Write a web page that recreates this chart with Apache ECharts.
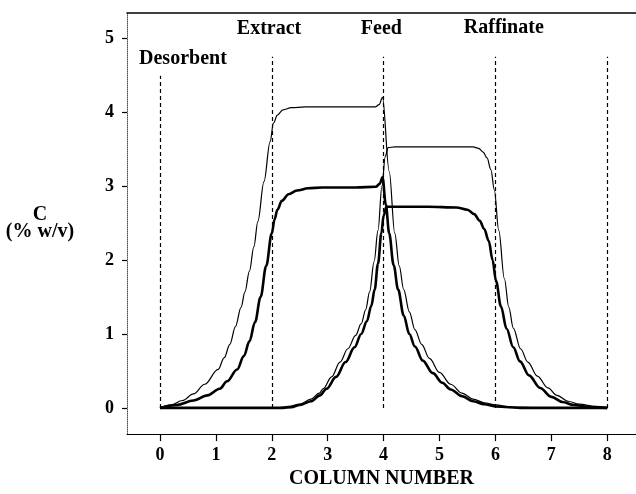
<!DOCTYPE html>
<html>
<head>
<meta charset="utf-8">
<script src="https://cdn.jsdelivr.net/npm/echarts@6/dist/echarts.min.js"></script>
<style>
html,body{margin:0;padding:0;background:#fff;}
#chart{width:636px;height:494px;}
</style>
</head>
<body>
<div id="chart"></div>
<script>
// ---- data ----
const xTicks = [0, 1, 2, 3, 4, 5, 6, 7, 8];
const yTicks = [0, 1, 2, 3, 4, 5];

// column boundaries (dashed lines) and their top ends
const sectionX = [0, 2, 4, 6, 8];
const sectionTop = [4.49, 4.75, 4.75, 4.75, 4.75];

// port annotations
const portNames = ['Desorbent', 'Extract', 'Feed', 'Raffinate'];
const portX = [0.41, 1.95, 3.96, 6.15];
const portY = [4.72, 5.13, 5.13, 5.14];

// extract component (strongly adsorbed), thin curve
const extractThin = [
  [0,0],[0.2,0.04],[0.4,0.1],[0.6,0.19],[0.8,0.32],[1.04,0.52],[1.15,0.68],[1.25,0.86],
  [1.35,1.1],[1.45,1.36],[1.52,1.57],[1.6,1.85],[1.68,2.18],[1.75,2.52],[1.86,3.06],
  [1.97,3.6],[2.03,3.85],[2.1,3.96],[2.2,4.03],[2.35,4.06],[2.6,4.07],[3.2,4.07],
  [3.85,4.07],[3.92,4.1],[3.98,4.2],[4.1,3.2],[4.2,2.36],[4.28,1.92],[4.36,1.6],
  [4.46,1.3],[4.56,1.06],[4.68,0.86],[4.82,0.67],[5.0,0.48],[5.2,0.32],[5.4,0.2],
  [5.6,0.12],[5.8,0.07],[6.0,0.04],[6.3,0.01],[7,0],[8,0]
];
// extract component, thick curve
const extractThick = [
  [0,0],[0.3,0.04],[0.6,0.1],[0.85,0.17],[1.07,0.26],[1.2,0.36],[1.38,0.52],[1.5,0.7],
  [1.6,0.9],[1.7,1.16],[1.8,1.5],[1.9,1.92],[2.0,2.36],[2.05,2.55],
  [2.1,2.68],[2.18,2.8],[2.3,2.89],[2.45,2.94],[2.65,2.97],[2.9,2.98],[3.5,2.98],
  [3.86,2.99],[3.93,3.03],[3.98,3.12],[4.04,2.75],[4.1,2.36],[4.18,1.93],[4.26,1.6],
  [4.36,1.25],[4.46,1.0],[4.56,0.83],[4.7,0.64],[4.88,0.47],[5.05,0.34],[5.2,0.25],
  [5.4,0.16],[5.6,0.09],[5.8,0.05],[6.0,0.02],[6.5,0],[8,0]
];
// raffinate component (weakly adsorbed), thin curve
const raffinateThin = [
  [0,0],[2.1,0],[2.3,0.02],[2.5,0.05],[2.7,0.12],[2.85,0.2],[2.92,0.26],[3.07,0.42],
  [3.22,0.62],[3.36,0.8],[3.5,0.98],[3.6,1.14],[3.68,1.33],[3.75,1.57],[3.83,1.98],
  [3.9,2.4],[3.97,3.0],[4.03,3.4],[4.08,3.52],[4.2,3.53],[5.0,3.53],[5.6,3.53],
  [5.7,3.51],[5.78,3.46],[5.85,3.38],[5.92,3.22],[5.98,2.95],[6.06,2.4],[6.16,1.75],
  [6.24,1.36],[6.32,1.08],[6.45,0.8],[6.58,0.62],[6.75,0.43],[6.94,0.27],[7.1,0.17],
  [7.3,0.09],[7.5,0.05],[7.8,0.02],[8,0]
];
// raffinate component, thick curve
const raffinateThick = [
  [0,0],[2.2,0],[2.35,0.01],[2.5,0.04],[2.7,0.09],[2.86,0.17],[2.98,0.26],[3.15,0.42],
  [3.32,0.62],[3.48,0.82],[3.6,1.0],[3.7,1.17],[3.78,1.38],[3.84,1.6],[3.9,1.95],
  [3.96,2.36],[4.0,2.6],[4.05,2.72],[4.2,2.72],[4.8,2.72],[5.3,2.71],[5.5,2.68],
  [5.62,2.62],[5.72,2.53],[5.8,2.42],[5.88,2.26],[5.95,2.0],[6.01,1.72],[6.1,1.37],
  [6.2,1.07],[6.32,0.82],[6.44,0.63],[6.6,0.44],[6.8,0.27],[7.0,0.15],[7.2,0.08],
  [7.4,0.04],[7.7,0.01],[8,0]
];

// ---- chart ----
const FONT = '"Liberation Serif", "DejaVu Serif", serif';
const chart = echarts.init(document.getElementById('chart'), null, {renderer: 'canvas'});

function curve(data, width) {
  return {
    type: 'line', data: data, showSymbol: false, smooth: 0.35, smoothMonotone: 'x',
    lineStyle: {color: '#000', width: width}, silent: true, z: 3
  };
}

const option = {
  backgroundColor: '#fff',
  animation: false,
  grid: {left: 127, right: 0, top: 13, bottom: 47, containLabel: false},
  xAxis: [{
    type: 'value', min: -0.59, max: 8.515, position: 'bottom',
    name: 'COLUMN NUMBER', nameLocation: 'middle', nameGap: 38,
    nameTextStyle: {fontFamily: FONT, fontWeight: 'bold', fontSize: 20, color: '#000', verticalAlign: 'middle'},
    axisLine: {onZero: false, lineStyle: {color: '#000', width: 1}},
    axisTick: {show: true, inside: false, length: 7, customValues: xTicks, lineStyle: {color: '#000', width: 1.2}},
    axisLabel: {customValues: xTicks, margin: 12, fontFamily: FONT, fontWeight: 'bold', fontSize: 18, color: '#000'},
    splitLine: {show: false}
  }, {
    type: 'value', min: -0.59, max: 8.515, position: 'top',
    axisLine: {show: true, onZero: false, lineStyle: {color: '#000', width: 1.5}},
    axisTick: {show: false}, axisLabel: {show: false}, splitLine: {show: false}
  }],
  yAxis: {
    type: 'value', min: -0.354, max: 5.34,
    name: 'C\n(% w/v)', nameLocation: 'middle', nameRotate: 0, nameGap: 87,
    nameTextStyle: {fontFamily: FONT, fontWeight: 'bold', fontSize: 20, color: '#000', align: 'center', verticalAlign: 'middle', lineHeight: 17, padding: [0,0,12,0]},
    axisLine: {show: true, onZero: false, lineStyle: {color: '#555', width: 1, type: 'dotted'}},
    axisTick: {show: true, inside: false, length: 5, customValues: yTicks, lineStyle: {color: '#000', width: 1.2}},
    axisLabel: {customValues: yTicks, margin: 13, fontFamily: FONT, fontWeight: 'bold', fontSize: 18, color: '#000'},
    splitLine: {show: false}
  },
  series: [
    curve(raffinateThick, 2.6),
    curve(extractThick, 2.6),
    curve(raffinateThin, 1.2),
    curve(extractThin, 1.2),
    {
      type: 'line', data: [], silent: true,
      markLine: {
        silent: true, symbol: ['none', 'none'], animation: false,
        label: {show: false},
        lineStyle: {color: '#000', width: 1.2, type: [4, 3]},
        data: sectionX.map((x, i) => [{coord: [x, 0]}, {coord: [x, sectionTop[i]]}])
      }
    },
    {
      type: 'scatter', symbolSize: 1, silent: true,
      itemStyle: {color: 'rgba(0,0,0,0)', opacity: 1},
      data: portNames.map((n, i) => ({name: n, value: [portX[i], portY[i]]})),
      label: {show: true, position: 'inside', formatter: '{b}', fontFamily: FONT, fontWeight: 'bold', fontSize: 20, color: '#000', opacity: 1}
    }
  ]
};
chart.setOption(option);
</script>
</body>
</html>
